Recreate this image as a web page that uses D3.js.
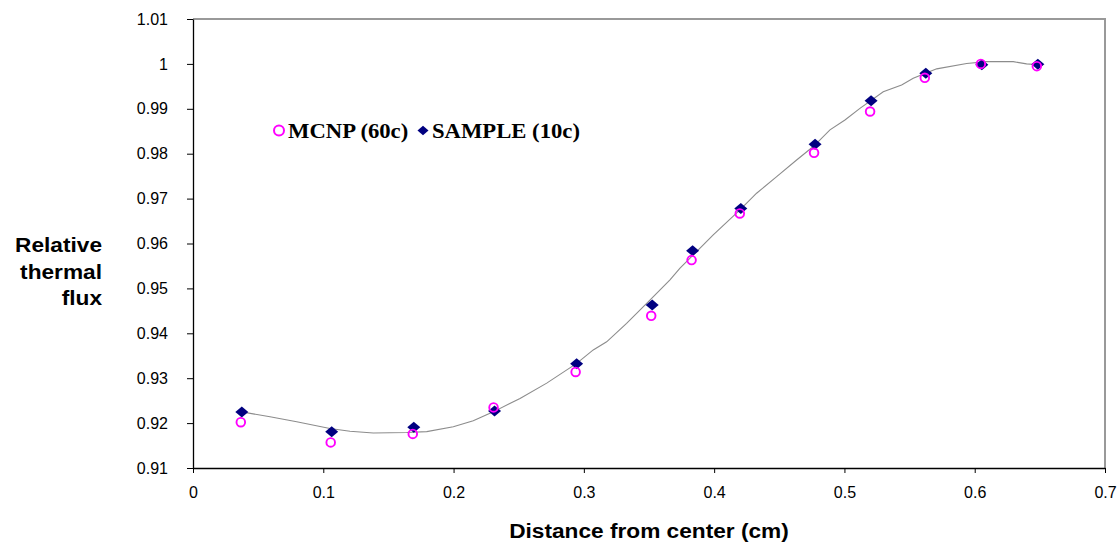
<!DOCTYPE html>
<html>
<head>
<meta charset="utf-8">
<script src="https://cdn.jsdelivr.net/npm/d3@7"></script>
<style>
  html, body { margin: 0; padding: 0; background: #fff; }
  svg { display: block; }
</style>
</head>
<body>
<div id="chart"></div>
<script>
// Données
const distance = [0.037, 0.106, 0.169, 0.231, 0.294, 0.352, 0.383, 0.420, 0.477, 0.520, 0.562, 0.605, 0.648];
const mcnp     = [0.9202, 0.9157, 0.9176, 0.9235, 0.9314, 0.9439, 0.9563, 0.9667, 0.9802, 0.9894, 0.9969, 1.0000, 0.9995];
const sample   = [0.9225, 0.9181, 0.9191, 0.9227, 0.9332, 0.9463, 0.9584, 0.9678, 0.9821, 0.9918, 0.9979, 0.9998, 0.9999];

// Courbe continue (grise)
const curveX = [0.0374, 0.0591, 0.0796, 0.1051, 0.1205, 0.1384, 0.1640, 0.1794, 0.1998, 0.2151, 0.2305, 0.2510,
                0.2715, 0.2945, 0.3072, 0.3175, 0.3328, 0.3507, 0.3661, 0.3738, 0.3993, 0.4198, 0.4326, 0.4480,
                0.4633, 0.4761, 0.4889, 0.5004, 0.5119, 0.5298, 0.5439, 0.5528, 0.5708, 0.5938, 0.6091, 0.6296,
                0.6398, 0.6487];
const curveY = [0.9225, 0.9214, 0.9203, 0.9188, 0.9182, 0.9178, 0.9179, 0.9181, 0.9192, 0.9205, 0.9225, 0.9255,
                0.9289, 0.9333, 0.9363, 0.9381, 0.9422, 0.9474, 0.9519, 0.9545, 0.9619, 0.9675, 0.9712, 0.9749,
                0.9786, 0.9816, 0.9853, 0.9875, 0.9901, 0.9938, 0.9953, 0.9968, 0.9989, 1.0001, 1.0005, 1.0005,
                1.0000, 0.9998];

const xTicks = [0, 0.1, 0.2, 0.3, 0.4, 0.5, 0.6, 0.7];
const xTickLabels = ["0", "0.1", "0.2", "0.3", "0.4", "0.5", "0.6", "0.7"];
const yTicks = [0.91, 0.92, 0.93, 0.94, 0.95, 0.96, 0.97, 0.98, 0.99, 1.0, 1.01];
const yTickLabels = ["0.91", "0.92", "0.93", "0.94", "0.95", "0.96", "0.97", "0.98", "0.99", "1", "1.01"];

const seriesNames = ["MCNP (60c)", "SAMPLE (10c)"];

// Constantes
const width = 1118, height = 548;
const plot = {left: 193, right: 1105, top: 19, bottom: 468};

const svg = d3.select('#chart')
    .append('svg')
    .attr("width", width)
    .attr("height", height);

const x = d3.scaleLinear().domain([0, 0.7]).range([plot.left, plot.right]);
const y = d3.scaleLinear().domain([0.91, 1.01]).range([plot.bottom, plot.top]);

// Cadre gris (haut et droite)
svg.append("path")
    .attr("d", `M${plot.left},${plot.top}H${plot.right}V${plot.bottom}`)
    .attr("fill", "none")
    .attr("stroke", "#999")
    .attr("stroke-width", 2);

// Axes
const yAxis = svg.append("g")
    .attr("transform", `translate(${plot.left},0)`)
    .call(d3.axisLeft(y)
        .tickValues(yTicks)
        .tickSize(6)
        .tickPadding(19)
        .tickSizeOuter(0)
        .tickFormat((d, i) => yTickLabels[i]));

const xAxis = svg.append("g")
    .attr("transform", `translate(0,${plot.bottom})`)
    .call(d3.axisBottom(x)
        .tickValues(xTicks)
        .tickSize(5)
        .tickPadding(14)
        .tickSizeOuter(0)
        .tickFormat((d, i) => xTickLabels[i]));

[xAxis, yAxis].forEach(g => {
    g.selectAll("path.domain").attr("stroke", "#000").attr("stroke-width", 1.3);
    g.selectAll(".tick line").attr("stroke", "#000");
    g.selectAll(".tick text")
        .attr("fill", "#000")
        .style("font-family", "Arial, 'Liberation Sans', sans-serif")
        .style("font-size", "16px");
});

// Titres des axes (légèrement étirés horizontalement comme dans l'original)
function stretchedText(px, py, txt, anchor, size, family) {
    return svg.append("text")
        .attr("transform", `translate(${px},${py}) scale(1.08,1)`)
        .attr("text-anchor", anchor)
        .style("font-family", family)
        .style("font-weight", "bold")
        .style("font-size", size + "px")
        .attr("fill", "#000")
        .text(txt);
}

const sans = "Arial, 'Liberation Sans', sans-serif";
stretchedText(102, 252, "Relative", "end", 21, sans);
stretchedText(102, 278.5, "thermal", "end", 21, sans);
stretchedText(102, 305, "flux", "end", 21, sans);
stretchedText((plot.left + plot.right) / 2, 538, "Distance from center (cm)", "middle", 21, sans);

// Courbe grise
const curve = curveX.map((d, i) => [d, curveY[i]]);
svg.append("path")
    .datum(curve)
    .attr("fill", "none")
    .attr("stroke", "#8c8c8c")
    .attr("stroke-width", 1.1)
    .attr("d", d3.line().x(d => x(d[0])).y(d => y(d[1])));

// Marqueurs
const diamond = "M-6.5,0L0,-5.5L6.5,0L0,5.5Z";

svg.append("g")
    .selectAll("path")
    .data(distance.map((d, i) => [d, sample[i]]))
    .join("path")
    .attr("d", diamond)
    .attr("transform", d => `translate(${x(d[0]) + 0.6},${y(d[1])})`)
    .attr("fill", "#000080");

svg.append("g")
    .selectAll("circle")
    .data(distance.map((d, i) => [d, mcnp[i]]))
    .join("circle")
    .attr("cx", d => x(d[0]) - 0.4)
    .attr("cy", d => y(d[1]))
    .attr("r", 4.3)
    .attr("fill", "none")
    .attr("stroke", "#ff00ff")
    .attr("stroke-width", 1.9);

// Légende
const serif = "'Times New Roman', 'Liberation Serif', serif";
svg.append("circle")
    .attr("cx", 279).attr("cy", 130.5).attr("r", 5)
    .attr("fill", "none").attr("stroke", "#ff00ff").attr("stroke-width", 2);
stretchedText(288, 137.5, seriesNames[0], "start", 21, serif);

svg.append("path")
    .attr("d", diamond)
    .attr("transform", "translate(423,130.5) scale(0.85)")
    .attr("fill", "#000080");
stretchedText(432, 137.5, seriesNames[1], "start", 21, serif);
</script>
</body>
</html>
